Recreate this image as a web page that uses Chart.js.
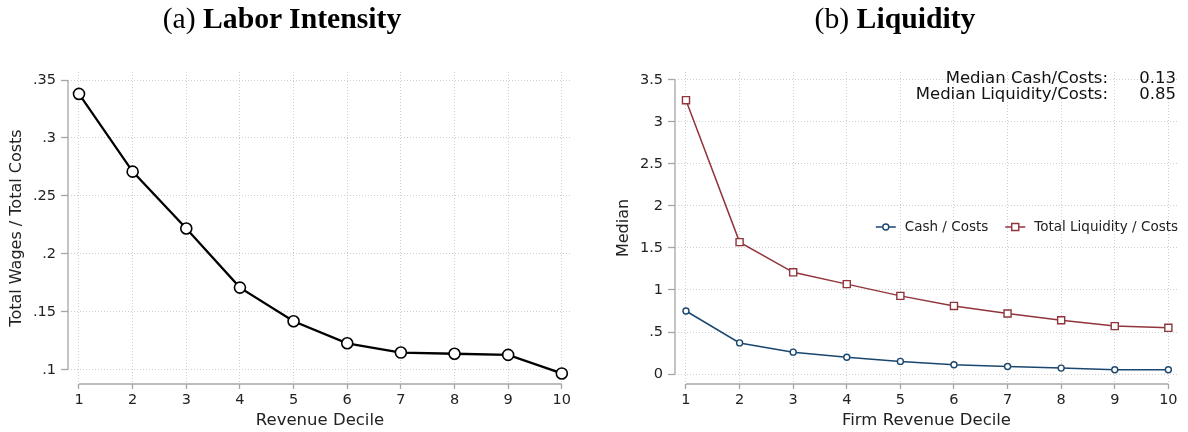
<!DOCTYPE html>
<html>
<head>
<meta charset="utf-8">
<script src="https://cdn.jsdelivr.net/npm/chart.js@4"></script>
<style>
	body { margin: 0; background: #fff; }
	#wrap { position: relative; width: 1188px; height: 432px; overflow: hidden; }
	.panel { position: absolute; top: 0; }
	.ttl { position: absolute; top: 1px; height: 34px; line-height: 34px; text-align: center;
		font-family: "Liberation Serif", serif; font-size: 29.7px; color: #000; z-index: 2; }
</style>
</head>
<body>
<div id="wrap">
	<div class="ttl" style="left:0;width:564px">(a) <b>Labor Intensity</b></div>
	<div class="ttl" style="left:595px;width:600px">(b) <b>Liquidity</b></div>
	<div class="panel" style="left:0"><canvas id="laborChart" width="594" height="432"></canvas></div>
	<div class="panel" style="left:594px"><canvas id="liqChart" width="594" height="432"></canvas></div>
</div>
<script>
// data
var deciles = [1, 2, 3, 4, 5, 6, 7, 8, 9, 10];
var wageShare = [0.338, 0.271, 0.222, 0.171, 0.142, 0.123, 0.115, 0.114, 0.113, 0.097];
var cashCosts = [0.75, 0.37, 0.26, 0.20, 0.15, 0.11, 0.09, 0.07, 0.05, 0.05];
var liqCosts = [3.26, 1.57, 1.21, 1.07, 0.93, 0.81, 0.72, 0.64, 0.57, 0.55];

var leftYTicks = [0.1, 0.15, 0.2, 0.25, 0.3, 0.35];
var leftYLabels = ['.1', '.15', '.2', '.25', '.3', '.35'];
var rightYTicks = [0, 0.5, 1, 1.5, 2, 2.5, 3, 3.5];
var rightYLabels = ['0', '.5', '1', '1.5', '2', '2.5', '3', '3.5'];

var seriesNames = ['Cash / Costs', 'Total Liquidity / Costs'];
var noteLabels = ['Median Cash/Costs:', 'Median Liquidity/Costs:'];
var noteValues = ['0.13', '0.85'];

var AXIS_COL = '#a6a6a6';
var GRID_COL = '#cfcfcf';
var NAVY = '#1a476f';
var MAROON = '#90353b';

Chart.defaults.font.family = 'DejaVu Sans';
Chart.defaults.color = '#222';

function toPoints(vals) {
	var pts = new Array();
	deciles.forEach(function(d, i) {
		pts.push({ x: d, y: vals[i] });
	});
	return pts;
}

// stata like axis lines that only span the tick range
var stataAxes = {
	id: 'stataAxes',
	afterDraw: function(chart) {
		var ctx = chart.ctx;
		var xs = chart.scales.x, ys = chart.scales.y;
		var ca = chart.chartArea;
		var yt = ys.ticks, xt = xs.ticks;
		ctx.save();
		ctx.strokeStyle = AXIS_COL;
		ctx.lineWidth = 1.3;
		ctx.beginPath();
		ctx.moveTo(ca.left, ys.getPixelForValue(yt[0].value));
		ctx.lineTo(ca.left, ys.getPixelForValue(yt[yt.length - 1].value));
		ctx.moveTo(xs.getPixelForValue(xt[0].value), ca.bottom);
		ctx.lineTo(xs.getPixelForValue(xt[xt.length - 1].value), ca.bottom);
		ctx.stroke();
		ctx.restore();
	}
};

function makeScales(o) {
	return {
		x: {
			type: 'linear',
			min: o.xmin,
			max: o.xmax,
			border: { display: false, dash: [1, 2] },
			afterBuildTicks: function(scale) {
				scale.ticks = deciles.map(function(v) { return { value: v }; });
			},
			afterFit: function(scale) { scale.height = 48; },
			ticks: {
				autoSkip: false,
				maxRotation: 0,
				padding: 3,
				font: { size: 14.5 },
				callback: function(v) { return String(v); }
			},
			grid: {
				color: GRID_COL,
				lineWidth: 1,
				tickColor: AXIS_COL,
				tickWidth: 1.3,
				tickLength: 5,
				tickBorderDash: []
			},
			title: {
				display: true,
				text: o.xTitle,
				font: { size: 16.5 },
				color: '#222',
				padding: { top: 0, bottom: 1.4 }
			}
		},
		y: {
			type: 'linear',
			min: o.ymin,
			max: o.ymax,
			border: { display: false, dash: [1, 2] },
			afterBuildTicks: function(scale) {
				scale.ticks = o.yTicks.map(function(v) { return { value: v }; });
			},
			afterFit: function(scale) { scale.width = o.yWidth; },
			ticks: {
				autoSkip: false,
				padding: 5,
				font: { size: 14.5 },
				callback: function(v) {
					var idx = o.yTicks.indexOf(v);
					return idx >= 0 ? o.yLabels[idx] : '';
				}
			},
			grid: {
				color: GRID_COL,
				lineWidth: 1,
				tickColor: AXIS_COL,
				tickWidth: 1.3,
				tickLength: 7,
				tickBorderDash: []
			},
			title: {
				display: true,
				text: o.yTitle,
				font: { size: 16 },
				color: '#222',
				padding: { top: o.yTitlePad, bottom: 0 }
			}
		}
	};
}

// legend drawn inside the plot, right aligned
var innerLegend = {
	id: 'innerLegend',
	afterDraw: function(chart) {
		var ctx = chart.ctx;
		var ca = chart.chartArea;
		var yMid = 227;
		var right = ca.right;
		var sample = 20, gapIn = 9, gapOut = 17;
		ctx.save();
		ctx.font = '13.5px "DejaVu Sans"';
		ctx.textBaseline = 'middle';
		ctx.textAlign = 'left';
		var items = chart.data.datasets;
		var x = right;
		var pos = new Array();
		for (var i = items.length - 1; i >= 0; i--) {
			var w = ctx.measureText(items[i].label).width;
			var tx = x - w;
			var sx = tx - gapIn - sample;
			pos[i] = { tx: tx, sx: sx };
			x = sx - gapOut;
		}
		items.forEach(function(ds, i) {
			var p = pos[i];
			ctx.strokeStyle = ds.borderColor;
			ctx.lineWidth = 1.5;
			ctx.beginPath();
			ctx.moveTo(p.sx, yMid);
			ctx.lineTo(p.sx + sample, yMid);
			ctx.stroke();
			ctx.strokeStyle = ds.pointBorderColor;
			ctx.fillStyle = ds.pointBackgroundColor;
			ctx.lineWidth = ds.pointBorderWidth;
			Chart.helpers.drawPoint(ctx, {
				pointStyle: ds.pointStyle,
				radius: ds.pointRadius,
				borderWidth: ds.pointBorderWidth,
				rotation: 0
			}, p.sx + sample / 2, yMid);
			ctx.fillStyle = '#222';
			ctx.fillText(ds.label, p.tx, yMid);
		});
		ctx.restore();
	}
};

// the two median notes at the top right
var medianNote = {
	id: 'medianNote',
	afterDraw: function(chart) {
		var ctx = chart.ctx;
		ctx.save();
		ctx.font = '16.5px "DejaVu Sans"';
		ctx.fillStyle = '#111';
		ctx.textBaseline = 'middle';
		ctx.textAlign = 'right';
		noteLabels.forEach(function(lbl, i) {
			var y = 79 + i * 16;
			ctx.fillText(lbl, 514, y);
			ctx.fillText(noteValues[i], 582, y);
		});
		ctx.restore();
	}
};

var laborChart = new Chart(document.getElementById('laborChart'), {
	type: 'line',
	data: {
		datasets: [{
			data: toPoints(wageShare),
			borderColor: '#000',
			borderWidth: 2.3,
			pointStyle: 'circle',
			pointRadius: 5.5,
			pointBorderWidth: 1.6,
			pointBorderColor: '#000',
			pointBackgroundColor: '#fff',
			fill: false,
			tension: 0,
			clip: false
		}]
	},
	options: {
		responsive: false,
		animation: false,
		layout: { padding: { top: 72, right: 22, bottom: 0, left: 0 } },
		plugins: { legend: { display: false }, tooltip: { enabled: false } },
		scales: makeScales({
			xmin: 0.795, xmax: 10.19,
			ymin: 0.0879, ymax: 0.3569,
			yTicks: leftYTicks, yLabels: leftYLabels,
			xTitle: 'Revenue Decile', yTitle: 'Total Wages / Total Costs',
			yWidth: 68, yTitlePad: 7.4
		})
	},
	plugins: [stataAxes]
});

var liqChart = new Chart(document.getElementById('liqChart'), {
	type: 'line',
	data: {
		datasets: [{
			label: seriesNames[0],
			data: toPoints(cashCosts),
			borderColor: NAVY,
			borderWidth: 1.5,
			pointStyle: 'circle',
			pointRadius: 3,
			pointBorderWidth: 1.4,
			pointBorderColor: NAVY,
			pointBackgroundColor: '#fff',
			fill: false,
			tension: 0,
			clip: false
		}, {
			label: seriesNames[1],
			data: toPoints(liqCosts),
			borderColor: MAROON,
			borderWidth: 1.5,
			pointStyle: 'rect',
			pointRadius: 5,
			pointBorderWidth: 1.4,
			pointBorderColor: MAROON,
			pointBackgroundColor: '#fff',
			fill: false,
			tension: 0,
			clip: false
		}]
	},
	options: {
		responsive: false,
		animation: false,
		layout: { padding: { top: 72, right: 10, bottom: 0, left: 0 } },
		plugins: { legend: { display: false }, tooltip: { enabled: false } },
		scales: makeScales({
			xmin: 0.795, xmax: 10.18,
			ymin: -0.119, ymax: 3.595,
			yTicks: rightYTicks, yLabels: rightYLabels,
			xTitle: 'Firm Revenue Decile', yTitle: 'Median',
			yWidth: 81, yTitlePad: 20.4
		})
	},
	plugins: [stataAxes, innerLegend, medianNote]
});
</script>
</body>
</html>
